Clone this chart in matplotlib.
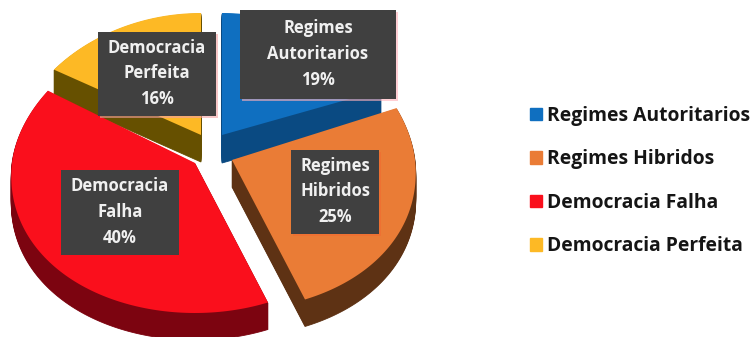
import numpy as np
import matplotlib
matplotlib.use("Agg")
import matplotlib.pyplot as plt
from matplotlib.patches import Patch, Rectangle

categories = ["Regimes Autoritarios", "Regimes Hibridos", "Democracia Falha", "Democracia Perfeita"]
values = [19, 25, 40, 16]
box_names = ["Regimes\nAutoritarios", "Regimes\nHibridos", "Democracia\nFalha", "Democracia\nPerfeita"]

top_colors = ["#0f6fc0", "#ea7c36", "#fa0f1c", "#fdb925"]
side_colors = ["#0a4a82", "#5e3214", "#7c0410", "#665000"]
apex = [(222, 135), (232, 160), (195, 163), (201, 135)]
depth = [28, 27, 27, 27]
draw_order = [3, 0, 2, 1]
boxes = [(240, 10, 156, 89), (291, 150, 88, 84), (61, 170, 118, 85), (98, 32, 118, 84)]
glow = ["#ffb0b8", "#f26a30", None, "#f2a0a0"]

RX = [177, 183, 183, 183]
RY_BACK = [122, 141, 135, 122]
RY_FRONT, PERSP = 150, 0.09

plt.rcParams["font.family"] = ["Open Sans", "DejaVu Sans"]
fig = plt.figure(figsize=(7.55, 3.37), dpi=100)
ax = fig.add_axes([0, 0, 1, 1])
ax.set_xlim(0, 755)
ax.set_ylim(337, 0)
ax.axis("off")


def wedge_outline(start_pct, stop_pct, cx, cy, rx, ry_back):
    """Projected pie wedge: percentages clockwise from twelve o'clock."""
    t = np.radians(np.linspace(start_pct, stop_pct, 120) * 3.6)
    u, v = np.sin(t), np.cos(t)
    xs = cx + rx * u * (1 - PERSP * v)
    ys = cy - np.where(v > 0, ry_back, RY_FRONT) * v
    return np.r_[cx, xs], np.r_[cy, ys]


edges = np.r_[0, np.cumsum(values)]
for i in draw_order:
    for d in range(depth[i], 0, -1):
        x, y = wedge_outline(edges[i], edges[i + 1], apex[i][0], apex[i][1] + d, RX[i], RY_BACK[i])
        ax.fill(x, y, color=side_colors[i], lw=0.6, zorder=2)
    x, y = wedge_outline(edges[i], edges[i + 1], apex[i][0], apex[i][1], RX[i], RY_BACK[i])
    ax.fill(x, y, color=top_colors[i], lw=0, zorder=2)

for i, (bx, by, bw, bh) in enumerate(boxes):
    if glow[i]:
        ax.add_patch(Rectangle((bx + 1.5, by + 1.5), bw, bh, color=glow[i], alpha=0.6, lw=0, zorder=3))
    ax.add_patch(Rectangle((bx, by), bw, bh, color="#404040", lw=0, zorder=4))
    ax.text(bx + bw / 2, by + bh / 2 - 0.5, f"{box_names[i]}\n{values[i]}%", color="#f0f0f0",
            ha="center", va="center", fontsize=12, fontweight="bold",
            linespacing=1.56, zorder=5)

handles = [Patch(color=c) for c in top_colors]
ax.legend(handles, categories, loc="center left", bbox_to_anchor=(530 / 755, 1 - 181 / 337),
          frameon=False, prop={"weight": "bold", "size": 13.9},
          handlelength=0.6, handleheight=0.6, handletextpad=0.3, labelspacing=1.22,
          borderaxespad=0, borderpad=0, labelcolor="#151515")

fig.savefig("out.png", dpi=100)
